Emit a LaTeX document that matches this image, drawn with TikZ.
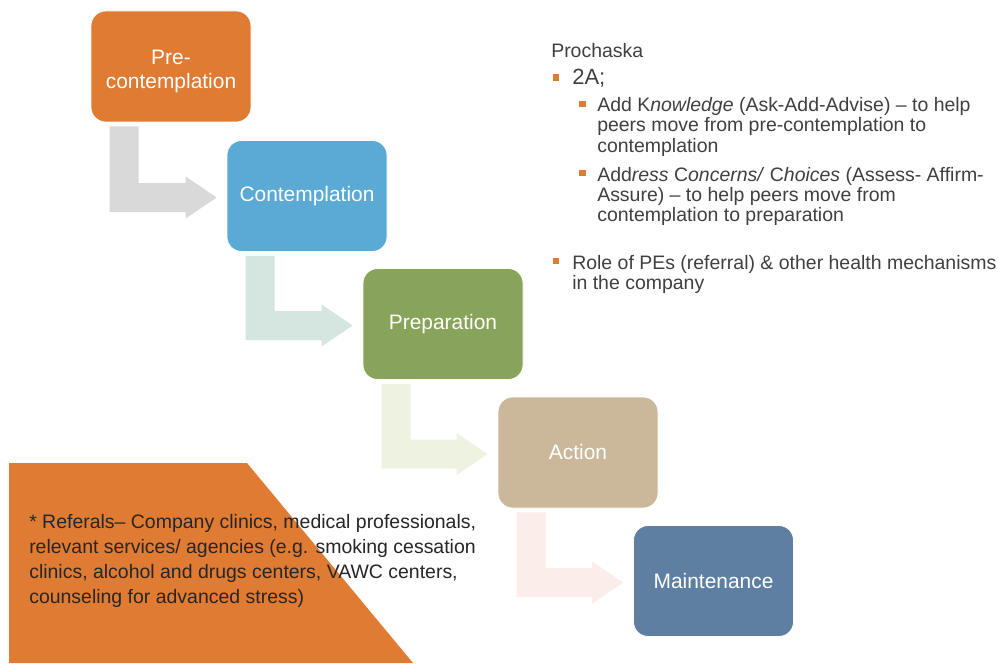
\documentclass[tikz,border=0pt]{standalone}
\usepackage{fontspec}
\setmainfont{Liberation Sans}
\usetikzlibrary{calc}
\definecolor{corange}{HTML}{E07B33}
\definecolor{cblue}{HTML}{5BAAD6}
\definecolor{cgreen}{HTML}{88A35A}
\definecolor{ctan}{HTML}{CBB89A}
\definecolor{cslate}{HTML}{5F7FA2}
\definecolor{agray}{HTML}{D9D9D9}
\definecolor{ateal}{HTML}{D5E5DF}
\definecolor{agreen}{HTML}{EEF3E1}
\definecolor{apink}{HTML}{FBEDE9}
\definecolor{tgray}{HTML}{404040}
\definecolor{tdark}{HTML}{262626}
\newcommand\pxu{0.75pt}
\newcommand\bentarr[3]{%
  \fill[#3] let \p1=(#1.south west), \p2=(#2.west) in
   (\x1+19*\pxu,\y1-4*\pxu) -- (\x1+48*\pxu,\y1-4*\pxu) --
   (\x1+48*\pxu,\y2+13*\pxu) -- (\x2-41*\pxu,\y2+13*\pxu) --
   (\x2-41*\pxu,\y2+19.5*\pxu) -- (\x2-10*\pxu,\y2-1.5*\pxu) --
   (\x2-41*\pxu,\y2-22.5*\pxu) -- (\x2-41*\pxu,\y2-16*\pxu) --
   (\x1+19*\pxu,\y2-16*\pxu) -- cycle;}
\begin{document}
\begin{tikzpicture}[x=0.75pt,y=-0.75pt,
  stage/.style={rectangle, rounded corners=11pt, minimum width=120pt,
    minimum height=83.25pt, inner sep=0pt, draw=white, line width=0.6pt,
    text=white, align=center, font=\fontsize{15.7}{18}\selectfont},
  stagetext/.style={text=white, align=center, inner sep=0pt,
    font=\fontsize{15.7}{18}\selectfont},
  body/.style={anchor=base west, inner sep=0pt, text=tgray,
    font=\fontsize{14.6}{17.5}\selectfont},
  note/.style={anchor=base west, inner sep=0pt, text=tdark,
    font=\fontsize{14.6}{17.5}\selectfont},
  bul/.style={rectangle, fill=corange, minimum size=4.8pt, inner sep=0pt}]
\useasboundingbox (0,0) rectangle (998,663);
\fill[white] (0,0) rectangle (998,663);
% orange corner shape
\fill[corange] (9,463) -- (247,463) -- (413,663) -- (9,663) -- cycle;
% stages
\node[stage, fill=corange,
  label={[stagetext, yshift=-3.4pt]center:{Pre-\\contemplation}}] (b1) at (171,66.5) {};
\node[stage, fill=cblue]   (b2) at (307,196) {Contemplation};
\node[stage, fill=cgreen]  (b3) at (443,324) {Preparation};
\node[stage, fill=ctan]    (b4) at (578,452.5) {Action};
\node[stage, fill=cslate]  (b5) at (713.5,581) {Maintenance};
% bent arrows
\bentarr{b1}{b2}{agray}
\bentarr{b2}{b3}{ateal}
\bentarr{b3}{b4}{agreen}
\bentarr{b4}{b5}{apink}
% right text block
\node[body] (t0) at (551,58) {Prochaska};
\node[bul] (q1) at (556,77.5) {};
\node[body, font=\fontsize{16.5}{19}\selectfont] (t1) at (572,85) {2A;};
\node[bul] (q2) at (582.5,104) {};
\node[body] (t2) at (597,112) {Add K\textit{nowledge} (Ask-Add-Advise) -- to help};
\node[body] (t3) at (597,132) {peers move from pre-contemplation to};
\node[body] (t4) at (597,152) {contemplation};
\node[bul] (q3) at (582.5,173) {};
\node[body] (t5) at (597,181) {Add\textit{ress} C\textit{oncerns/} C\textit{hoices} (Assess- Affirm-};
\node[body] (t6) at (597,201) {Assure) -- to help peers move from};
\node[body] (t7) at (597,221) {contemplation to preparation};
\node[bul] (q4) at (556,261) {};
\node[body] (t8) at (572,269) {Role of PEs (referral) \& other health mechanisms};
\node[body] (t9) at (572,289) {in the company};
% bottom-left note
\node[note] (n1) at (29,528) {* Referals-- Company clinics, medical professionals,};
\node[note] (n2) at (29,553) {relevant services/ agencies (e.g. smoking cessation};
\node[note] (n3) at (29,578) {clinics, alcohol and drugs centers, VAWC centers,};
\node[note] (n4) at (29,603) {counseling for advanced stress)};
\end{tikzpicture}
\end{document}
